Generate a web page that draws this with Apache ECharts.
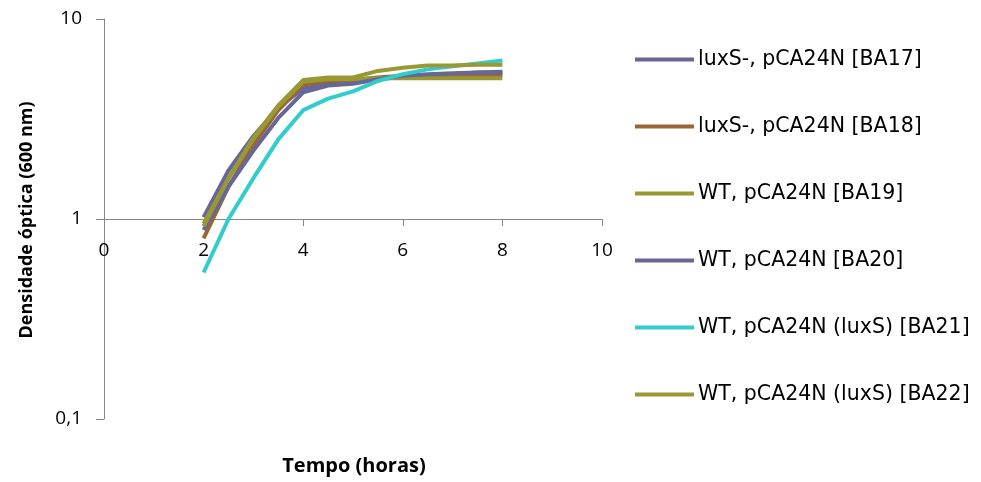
<!DOCTYPE html>
<html>
<head>
<meta charset="utf-8">
<script src="https://cdn.jsdelivr.net/npm/echarts@6/dist/echarts.min.js"></script>
<style>
  html, body { margin: 0; padding: 0; background: #fff; }
  #chart { width: 981px; height: 482px; }
</style>
</head>
<body>
<div id="chart"></div>
<script>
// Sampling times (hours)
const tempo = [2, 2.5, 3, 3.5, 4, 4.5, 5, 5.5, 6, 6.5, 7, 7.5, 8];

// Optical density at 600 nm for each strain
const ba17 = [1.02, 1.75, 2.6, 3.6, 4.5, 4.75, 4.8, 5.0, 5.15, 5.25, 5.3, 5.4, 5.45];
const ba18 = [0.80, 1.45, 2.35, 3.5, 4.7, 4.9, 4.95, 5.1, 5.2, 5.2, 5.2, 5.25, 5.25];
const ba19 = [0.95, 1.6, 2.5, 3.65, 4.85, 5.0, 5.0, 5.05, 5.05, 5.05, 5.05, 5.05, 5.05];
const ba20 = [0.88, 1.45, 2.2, 3.2, 4.3, 4.65, 4.75, 5.0, 5.2, 5.3, 5.35, 5.4, 5.4];
const ba21 = [0.54, 1.0, 1.6, 2.5, 3.5, 4.0, 4.35, 4.9, 5.3, 5.6, 5.8, 6.0, 6.2];
const ba22 = [0.92, 1.6, 2.55, 3.7, 4.95, 5.1, 5.1, 5.5, 5.7, 5.85, 5.85, 5.9, 5.9];

const nomes = [
  'luxS-, pCA24N [BA17]',
  'luxS-, pCA24N [BA18]',
  'WT, pCA24N [BA19]',
  'WT, pCA24N [BA20]',
  'WT, pCA24N (luxS) [BA21]',
  'WT, pCA24N (luxS) [BA22]'
];
const valores = [ba17, ba18, ba19, ba20, ba21, ba22];
const cores = ['#666699', '#996633', '#999933', '#666699', '#33CCCC', '#999933'];

const xTicks = [0, 2, 4, 6, 8, 10];

const FONT = '"Open Sans", "Noto Sans", sans-serif';
const LEGEND_FONT = '"DejaVu Sans", sans-serif';

const chart = echarts.init(document.getElementById('chart'), null, { renderer: 'canvas' });

const series = nomes.map((nome, i) => ({
  name: nome,
  type: 'line',
  data: tempo.map((t, k) => [t, valores[i][k]]),
  showSymbol: false,
  symbol: 'none',
  lineStyle: { width: 4, color: cores[i], join: 'round' },
  itemStyle: { color: cores[i] },
  z: 2 + i
}));

chart.setOption({
  animation: false,
  backgroundColor: '#fff',
  grid: { left: 104, top: 19, width: 498, height: 400, containLabel: false },
  xAxis: {
    type: 'value',
    min: xTicks[0],
    max: xTicks[xTicks.length - 1],
    interval: 2,
    position: 'bottom',
    offset: -200,
    axisLine: { show: true, lineStyle: { color: '#868686', width: 1 } },
    axisTick: { show: true, length: 7, inside: false, lineStyle: { color: '#868686' } },
    axisLabel: { color: '#000', fontSize: 19, fontFamily: FONT, margin: 22 },
    splitLine: { show: false }
  },
  yAxis: {
    type: 'log',
    logBase: 10,
    min: 0.1,
    max: 10,
    axisLine: { show: true, lineStyle: { color: '#868686', width: 1 } },
    axisTick: { show: true, length: 8, lineStyle: { color: '#868686' } },
    axisLabel: {
      color: '#000', fontSize: 19, fontFamily: FONT, margin: 22,
      formatter: v => String(Number(v.toPrecision(3))).replace('.', ',')
    },
    splitLine: { show: false },
    minorTick: { show: false }
  },
  legend: {
    orient: 'vertical',
    left: 635,
    top: 49,
    padding: 0,
    itemGap: 46,
    itemWidth: 59,
    itemHeight: 4,
    icon: 'rect',
    textStyle: { color: '#000', fontSize: 20.5, fontFamily: LEGEND_FONT, padding: [0, 0, 0, -1] },
    data: nomes.map((n, i) => ({ name: n, itemStyle: { color: cores[i] } }))
  },
  graphic: [
    {
      type: 'text',
      style: {
        text: 'Densidade óptica (600 nm)',
        font: 'bold 18px ' + FONT,
        fill: '#000',
        textAlign: 'center',
        textVerticalAlign: 'middle'
      },
      x: 27, y: 220,
      rotation: Math.PI / 2
    },
    {
      type: 'text',
      style: {
        text: 'Tempo (horas)',
        font: 'bold 20px ' + FONT,
        fill: '#000',
        textAlign: 'center',
        textVerticalAlign: 'middle'
      },
      x: 354, y: 466
    }
  ],
  series: series
});
</script>
</body>
</html>
